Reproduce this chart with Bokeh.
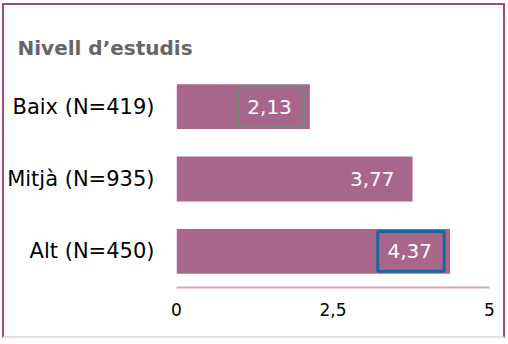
from bokeh.plotting import figure
from bokeh.models import FixedTicker, ColumnDataSource, FactorRange
from bokeh.embed import file_html
from bokeh.resources import INLINE
from bokeh.core.properties import value

title_text = "Nivell d’estudis"
categories = ["Baix (N=419)", "Mitjà (N=935)", "Alt (N=450)"]
values = [2.13, 3.77, 4.37]
value_labels = ["2,13", "3,77", "4,37"]
highlight = ["#808080", None, "#1a66a0"]
x_ticks = [0, 2.5, 5]
x_tick_labels = ["0", "2,5", "5"]

BAR = "#a8678a"
BORDER = "#9d4c7c"
FONT = "DejaVu Sans"

src = ColumnDataSource(dict(cat=categories, val=values, lab=value_labels))

p = figure(width=503, height=335,
           y_range=FactorRange(factors=list(reversed(categories))),
           x_range=(0, 5),
           output_backend="svg", toolbar_location=None,
           min_border_left=169, min_border_right=18,
           min_border_top=65, min_border_bottom=53)
p.styles = {"position": "relative", "left": "2px", "top": "3px",
            "border-left": f"2px solid {BORDER}",
            "border-top": f"2px solid {BORDER}",
            "border-right": f"2px solid {BORDER}",
            "border-bottom": "2px solid #ebdde5"}

p.hbar(y="cat", left=0, right="val", height=0.62, source=src,
       fill_color=BAR, line_color=None)
p.text(x="val", y="cat", text="lab", source=src, x_offset=-18,
       text_align="right", text_baseline="middle", text_color="white",
       text_font=value(FONT), text_font_size="20px")

bx = [v - 0.625 for v, h in zip(values, highlight) if h]
by = [c for c, h in zip(categories, highlight) if h]
bc = [h for h in highlight if h]
p.rect(x=bx, y=by, width=1.06, height=0.55, fill_color=None,
       line_color=bc, line_width=3)

p.title.text = title_text
p.title.align = "left"
p.title.offset = -159
p.title.text_font = FONT
p.title.text_font_size = "20px"
p.title.text_font_style = "bold"
p.title.text_color = "#666666"
p.title.standoff = 21

p.xaxis.ticker = FixedTicker(ticks=x_ticks)
p.xaxis.major_label_overrides = {t: l for t, l in zip(x_ticks, x_tick_labels)}
p.xaxis.axis_line_color = "#d4a3bd"
p.xaxis.axis_line_width = 2
p.xaxis.major_tick_line_color = None
p.xaxis.minor_tick_line_color = None
p.xaxis.major_tick_out = 0
p.xaxis.major_label_standoff = 15
p.xaxis.major_label_text_font = FONT
p.xaxis.major_label_text_font_size = "17px"
p.xaxis.major_label_text_color = "black"

p.yaxis.axis_line_color = None
p.yaxis.major_tick_line_color = None
p.yaxis.minor_tick_line_color = None
p.yaxis.major_tick_out = 0
p.yaxis.major_label_standoff = 22
p.yaxis.major_label_text_font = FONT
p.yaxis.major_label_text_font_size = "21px"
p.yaxis.major_label_text_color = "black"

p.xgrid.grid_line_color = None
p.ygrid.grid_line_color = None
p.outline_line_color = None

open("out.html", "w").write(file_html(p, INLINE))
